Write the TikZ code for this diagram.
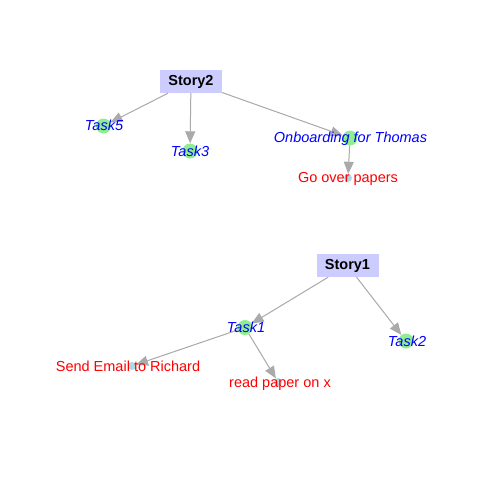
\documentclass[tikz,border=0pt]{standalone}
\usepackage{fontspec}
\setmainfont{Liberation Sans}
\usetikzlibrary{arrows.meta}
\definecolor{edgegray}{RGB}{170,170,170}
\definecolor{storyfill}{RGB}{204,204,255}
\definecolor{taskfill}{RGB}{144,238,144}
\definecolor{subfill}{RGB}{173,216,230}
\tikzset{
  storybox/.style={rectangle, fill=storyfill, draw=none, minimum width=62pt, minimum height=23pt, inner sep=0pt,
    font=\fontsize{14.5}{17}\selectfont\bfseries, text=black},
  taskdot/.style={circle, fill=taskfill, draw=none, minimum size=15pt, inner sep=0pt},
  subdot/.style={circle, fill=subfill, draw=none, minimum size=8pt, inner sep=0pt},
  tasklabel/.style={font=\fontsize{14.5}{17}\selectfont\itshape, text=blue, inner sep=0pt, text height=10.4pt, text depth=0pt},
  sublabel/.style={font=\fontsize{14.5}{17}\selectfont, text=red, inner sep=0pt, text height=10.4pt, text depth=0pt},
  edge/.style={draw=edgegray, line width=1pt, -{Triangle[length=12pt,width=10pt]}, fill=edgegray}
}
\begin{document}
\begin{tikzpicture}[x=1pt,y=-1pt]
\useasboundingbox (0,0) rectangle (480,480);
% vertices
\node[storybox] (S2) at (191,81.5) {Story2};
\node[taskdot] (T5) at (103.5,126) {};
\node[taskdot] (T3) at (190,151) {};
\node[taskdot] (ON) at (350,138) {};
\node[subdot] (GP) at (348,178) {};
\node[storybox] (S1) at (347.5,265.5) {Story1};
\node[taskdot] (T1) at (245,327.5) {};
\node[taskdot] (T2) at (406,341) {};
\node[subdot] (SE) at (132,366) {};
\node[subdot] (RP) at (278,382) {};
% edges
\draw[edge] (S2) -- (T5);
\draw[edge] (S2) -- (T3);
\draw[edge] (S2) -- (ON);
\draw[edge] (ON) -- (GP);
\draw[edge] (S1) -- (T1);
\draw[edge] (S1) -- (T2);
\draw[edge] (T1) -- (SE);
\draw[edge] (T1) -- (RP);
% labels
\node[tasklabel] (lT5) at (104,125.5) {Task5};
\node[tasklabel] (lT3) at (190,151.5) {Task3};
\node[tasklabel] (lON) at (350.5,137.5) {Onboarding for Thomas};
\node[sublabel] (lGP) at (348,177) {Go over papers};
\node[tasklabel] (lT1) at (246,327) {Task1};
\node[tasklabel] (lT2) at (407,341) {Task2};
\node[sublabel] (lSE) at (128,366) {Send Email to Richard};
\node[sublabel] (lRP) at (280,382) {read paper on x};
\end{tikzpicture}
\end{document}
